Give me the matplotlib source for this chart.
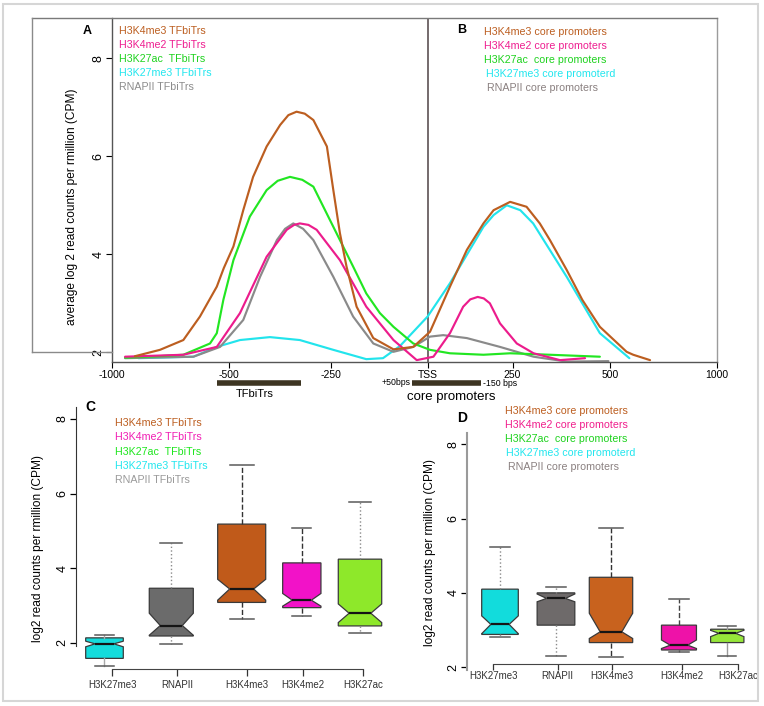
import numpy as np
import matplotlib
matplotlib.use("Agg")
import matplotlib.pyplot as plt
from matplotlib.lines import Line2D
from matplotlib.patches import Rectangle

plt.rcParams["font.family"] = ["Liberation Sans", "DejaVu Sans"]

W, H = 764, 706

# ---- panel A/B: average profiles (x in bp relative to TSS) ----
h3k4me3_x = [-900, -793, -693, -622, -550, -520, -488, -464, -440, -407, -374, -354, -334, -314,
             -293, -260, -244, -227, -210, -184, -141, -89, -38, 6, 65, 115, 164, 194, 243, 286,
             320, 346, 389, 429, 474, 578, 609, 688]
h3k4me3_y = [1.92, 2.05, 2.25, 2.73, 3.34, 3.72, 4.16, 4.90, 5.58, 6.20, 6.64, 6.84, 6.91, 6.87,
             6.74, 6.20, 5.31, 4.43, 3.75, 2.93, 2.29, 2.06, 2.11, 2.42, 3.34, 4.09, 4.63, 4.90,
             5.07, 4.97, 4.63, 4.29, 3.68, 3.07, 2.52, 2.01, 1.95, 1.84]

h3k27ac_x = [-942, -800, -693, -579, -550, -522, -488, -448, -407, -380, -350, -320, -293, -227,
             -193, -159, -124, -89, -38, 6, 65, 164, 243, 346, 474]
h3k27ac_y = [1.89, 1.92, 1.95, 2.18, 2.39, 3.07, 3.88, 4.77, 5.31, 5.50, 5.58, 5.52, 5.38, 4.29,
             3.75, 3.20, 2.80, 2.52, 2.18, 2.05, 1.98, 1.95, 1.98, 1.95, 1.91]

h3k4me2_x = [-942, -693, -550, -472, -407, -358, -340, -326, -305, -285, -227, -159, -89, -29,
             16, 65, 104, 125, 147, 165, 183, 213, 261, 304, 372, 436]
h3k4me2_y = [1.91, 1.95, 2.11, 2.80, 3.95, 4.50, 4.60, 4.63, 4.60, 4.50, 3.88, 2.93, 2.25, 1.84,
             1.91, 2.39, 2.93, 3.08, 3.13, 3.10, 3.00, 2.59, 2.18, 1.98, 1.84, 1.88]

rnapii_x = [-942, -650, -536, -464, -423, -382, -362, -342, -318, -293, -244, -193, -141, -89,
            -38, 6, 45, 115, 213, 304, 389, 496]
rnapii_y = [1.88, 1.91, 2.11, 2.66, 3.54, 4.29, 4.52, 4.63, 4.52, 4.29, 3.54, 2.73, 2.18, 2.01,
            2.11, 2.32, 2.35, 2.29, 2.11, 1.91, 1.81, 1.82]

h3k27me3_x = [-885, -650, -550, -472, -399, -326, -244, -159, -116, -72, -1, 65, 164, 194, 233,
              270, 303, 389, 474, 591]
h3k27me3_y = [1.88, 1.91, 2.11, 2.25, 2.31, 2.25, 2.05, 1.86, 1.88, 2.13, 2.73, 3.41, 4.56, 4.80,
              5.00, 4.90, 4.63, 3.54, 2.39, 1.88]

tick_bp = [-1000, -500, -250, 0, 250, 500, 1000]
tick_lab = ["-1000", "-500", "-250", "TSS", "250", "500", "1000"]
# the drawn axis is not linear in bp: screen offset of each tick
tick_px = [0, 117, 219.5, 316.5, 401, 498.5, 605]

tfbitrs_region = (-549, -324)
core_region = (-40, 158)

legend_a = ["H3K4me3 TFbiTrs", "H3K4me2 TFbiTrs", "H3K27ac  TFbiTrs", "H3K27me3 TFbiTrs",
            "RNAPII TFbiTrs"]
legend_b = ["H3K4me3 core promoters", "H3K4me2 core promoters", "H3K27ac  core promoters",
            "H3K27me3 core promoterd", "RNAPII core promoters"]

# ---- panels C/D: boxplots ----
box_names = ["H3K27me3", "RNAPII", "H3K4me3", "H3K4me2", "H3K27ac"]

c_whi = [2.20, 4.66, 6.76, 5.07, 5.78]
c_q3 = [2.13, 3.46, 5.18, 4.14, 4.24]
c_cihi = [2.04, 2.79, 3.70, 3.32, 3.04]
c_med = [1.97, 2.46, 3.44, 3.14, 2.79]
c_cilo = [1.89, 2.20, 3.14, 2.98, 2.54]
c_q1 = [1.58, 2.18, 3.08, 2.94, 2.45]
c_wlo = [1.38, 1.97, 2.64, 2.72, 2.26]

d_whi = [5.24, 4.17, 5.74, 3.83, 3.11]
d_q3 = [4.10, 4.00, 4.42, 3.13, 3.02]
d_cihi = [3.38, 3.97, 3.45, 2.73, 2.99]
d_med = [3.15, 3.85, 2.95, 2.59, 2.91]
d_cilo = [2.90, 3.76, 2.77, 2.50, 2.82]
d_q1 = [2.88, 3.13, 2.66, 2.46, 2.66]
d_wlo = [2.80, 2.30, 2.28, 2.41, 2.31]

C_BROWN = "#BC5E20"
C_MAG = "#EC1C8C"
C_GREEN = "#22E622"
C_CYAN = "#22E4EC"
C_GRAY = "#8A8A8A"


def rect(left, top, right, bottom):
    return [left / W, 1 - bottom / H, (right - left) / W, (bottom - top) / H]


def ftext(px, py, s, **kw):
    fig.text(px / W, 1 - py / H, s, **kw)


def fline(xs, ys, **kw):
    fig.add_artist(Line2D([x / W for x in xs], [1 - y / H for y in ys],
                          transform=fig.transFigure, **kw))


fig = plt.figure(figsize=(W / 100, H / 100), dpi=100)

# outer light frame
fig.add_artist(Rectangle((3.5 / W, 1 - 700.5 / H), 754.5 / W, 696.5 / H,
                         transform=fig.transFigure, fill=False,
                         edgecolor="#D6D6D6", lw=1.5))

# ================= A / B =================
ax = fig.add_axes(rect(111.5, 18.3, 716.5, 362))


def fwd(x):
    return np.interp(x, tick_bp, tick_px)


def inv(p):
    return np.interp(p, tick_px, tick_bp)


ax.set_xscale("function", functions=(fwd, inv))
ax.set_xlim(-1000, 1000)
ax.set_ylim(1.802, 8.816)

ax.axvline(0, color="#746A6C", lw=1.4, zorder=1)

lw = 1.55
kw = dict(lw=lw, solid_joinstyle="round", solid_capstyle="round")
ax.plot(h3k27me3_x, h3k27me3_y, color=C_CYAN, **kw)
ax.plot(rnapii_x, rnapii_y, color=C_GRAY, **kw)
ax.plot(h3k27ac_x, h3k27ac_y, color=C_GREEN, **kw)
ax.plot(h3k4me2_x, h3k4me2_y, color=C_MAG, **kw)
ax.plot(h3k4me3_x, h3k4me3_y, color=C_BROWN, **kw)

ax.set_xticks(tick_bp)
ax.set_xticklabels(tick_lab)
ax.xaxis.set_minor_locator(matplotlib.ticker.NullLocator())
ax.set_yticks([2, 4, 6, 8])
ax.set_yticklabels(["2", "4", "6", "8"], rotation=90, va="center")
ax.tick_params(axis="x", length=4, width=0.8, labelsize=7.5, pad=1.5)
ax.tick_params(axis="y", length=4, width=0.8, labelsize=9, pad=1)
ax.spines["top"].set_visible(False)
ax.spines["right"].set_color("#9C9C9C")
ax.spines["left"].set_color("#555555")
ax.spines["bottom"].set_color("#555555")
for s in ax.spines.values():
    s.set_linewidth(1.0)

# box around the top panel
fline([32, 717], [18.3, 18.3], color="#7A7A7A", lw=1.0)
fline([32, 32], [18.3, 351.7], color="#8A8A8A", lw=1.0)
fline([32, 111.5], [351.7, 351.7], color="#8A8A8A", lw=1.0)

ftext(71.7, 206.7, "average log 2 read counts per rmillion (CPM)", rotation=90,
      ha="center", va="center", fontsize=8.6)

ftext(87.3, 30.7, "A", fontsize=9, fontweight="bold", ha="center", va="center")
ftext(461.7, 30, "B", fontsize=9, fontweight="bold", ha="center", va="center")

text_cols = [C_BROWN, "#EE1E90", "#1FD21F", "#22E6EE", "#8C8C8C"]
for i, s in enumerate(legend_a):
    ftext(119, 30.7 + i * 14.0, s, color=text_cols[i], fontsize=7.7, va="center")
b_x = [484, 484, 484, 485.5, 486.5]
b_cols = [C_BROWN, "#EE1E90", "#1FD21F", "#22E6EE", "#8A8080"]
for i, s in enumerate(legend_b):
    ftext(b_x[i], 32.3 + i * 13.9, s, color=b_cols[i], fontsize=7.7, va="center")


# region bars under the axis
def ay(py):
    return (362 - py) / (362 - 18.3)


trans = ax.get_xaxis_transform()
ax.plot(tfbitrs_region, [ay(383)] * 2, color="#3D3522", lw=4, solid_capstyle="butt",
        transform=trans, clip_on=False)
ax.plot(core_region, [ay(383)] * 2, color="#3D3522", lw=4, solid_capstyle="butt",
        transform=trans, clip_on=False)
ax.text(np.mean(tfbitrs_region), ay(394), "TFbiTrs", transform=trans, ha="center",
        va="center", fontsize=8)
ax.text(core_region[0] - 4, ay(382.5), "+50bps", transform=trans, ha="right",
        va="center", fontsize=6.3)
ax.text(core_region[1] + 6, ay(384), "-150 bps", transform=trans, ha="left",
        va="center", fontsize=6.3)
ax.text(70, ay(397), "core promoters", transform=trans, ha="center", va="center",
        fontsize=9.5)


# ================= C / D =================
def draw_box(axb, pos, widths, med, q1, q3, wlo, whi, cilo, cihi, colors, wstyles, capw):
    stats = []
    for i in range(len(med)):
        stats.append(dict(med=med[i], q1=q1[i], q3=q3[i], whislo=wlo[i], whishi=whi[i],
                          cilo=cilo[i], cihi=cihi[i], fliers=[]))
    bp = axb.bxp(stats, positions=pos, widths=widths, shownotches=True, patch_artist=True,
                 showfliers=False, capwidths=capw, manage_ticks=False)
    for i, b in enumerate(bp["boxes"]):
        b.set_facecolor(colors[i])
        b.set_edgecolor("#3A3A3A")
        b.set_linewidth(0.9)
    for m in bp["medians"]:
        m.set_color("#151515")
        m.set_linewidth(1.6)
    for i in range(len(med)):
        ls, col = wstyles[i]
        for wk in bp["whiskers"][2 * i:2 * i + 2]:
            wk.set_linestyle(ls)
            wk.set_color(col)
            wk.set_linewidth(1.0)
        for cp in bp["caps"][2 * i:2 * i + 2]:
            cp.set_color("#5A5A5A")
            cp.set_linewidth(1.1)


# C
axc = fig.add_axes(rect(75.7, 400, 400, 669.3))
c_pos = [1.0, 2.0, 3.054, 3.954, 4.825]
c_ticks = [1.117, 2.090, 3.129, 3.976, 4.874]
c_w = [0.563, 0.659, 0.719, 0.573, 0.650]
c_cols = ["#14DCDC", "#6B6B6B", "#C05A1A", "#F212C8", "#8EE82A"]
c_ws = [("-", "#AAAAAA"), (":", "#8A8A8A"), ("--", "#333333"), ("--", "#333333"),
        (":", "#8A8A8A")]
draw_box(axc, c_pos, c_w, c_med, c_q1, c_q3, c_wlo, c_whi, c_cilo, c_cihi, c_cols, c_ws,
         [w * 0.5 for w in c_w])
axc.set_xlim(0.569, 5.424)
axc.set_ylim(1.287, 8.507)
axc.set_xticks(c_ticks)
axc.set_xticklabels(box_names)
axc.set_yticks([2, 4, 6, 8])
axc.set_yticklabels(["2", "4", "6", "8"], rotation=90, va="center")
axc.tick_params(axis="x", length=5, width=0.9, labelsize=7, pad=2.5, colors="#333333")
axc.tick_params(axis="y", length=4, width=0.9, labelsize=9, pad=1)
axc.spines["top"].set_visible(False)
axc.spines["right"].set_visible(False)
axc.spines["left"].set_bounds(1.9, 8.33)
axc.spines["bottom"].set_bounds(c_ticks[0], c_ticks[-1])
axc.spines["left"].set_color("#333333")
axc.spines["bottom"].set_color("#444444")
axc.patch.set_alpha(0)

ftext(38, 548, "log2 read counts per rmillion (CPM)", rotation=90, ha="center",
      va="center", fontsize=8.6)
ftext(90, 407, "C", fontsize=10, fontweight="bold", ha="center", va="center")
c_tcols = [C_BROWN, "#F01EB4", "#1EE61E", "#22E6EE", "#9A9A9A"]
for i, s in enumerate(legend_a):
    ftext(115, 423.3 + i * 14.2, s, color=c_tcols[i], fontsize=7.7, va="center")

# D
axd = fig.add_axes(rect(466.7, 430, 750, 672))
d_pos = [1.0, 1.933, 2.85, 3.983, 4.788]
d_ticks = [0.888, 1.962, 2.867, 4.028, 4.972]
d_w = [0.61, 0.628, 0.723, 0.583, 0.555]
d_cols = ["#12DCDC", "#6E6A6A", "#C8621E", "#EE12A8", "#96E63A"]
d_ws = [(":", "#8A8A8A"), (":", "#8A8A8A"), ("--", "#333333"), ("--", "#444444"),
        ("-", "#9A9A9A")]
draw_box(axd, d_pos, d_w, d_med, d_q1, d_q3, d_wlo, d_whi, d_cilo, d_cihi, d_cols, d_ws,
         [w * 0.55 for w in d_w])
axd.set_xlim(0.445, 5.167)
axd.set_ylim(1.867, 8.39)
axd.set_xticks(d_ticks)
axd.set_xticklabels(box_names)
axd.set_yticks([2, 4, 6, 8])
axd.set_yticklabels(["2", "4", "6", "8"], rotation=90, va="center")
axd.tick_params(axis="x", length=4, width=0.9, labelsize=7, pad=1, colors="#333333")
axd.tick_params(axis="y", length=4, width=0.9, labelsize=9, pad=1)
axd.spines["top"].set_visible(False)
axd.spines["right"].set_visible(False)
axd.spines["bottom"].set_position(("data", 2.082))
axd.spines["bottom"].set_bounds(d_ticks[0], d_ticks[-1])
axd.spines["left"].set_bounds(1.92, 8.31)
axd.spines["left"].set_color("#9A9A9A")
axd.spines["left"].set_linewidth(1.5)
axd.spines["bottom"].set_color("#444444")
axd.patch.set_alpha(0)

ftext(430, 553, "log2 read counts per rmillion (CPM)", rotation=90, ha="center",
      va="center", fontsize=8.6)
ftext(461.7, 418, "D", fontsize=10, fontweight="bold", ha="center", va="center")
d_tx = [505, 505, 505, 506.5, 508]
d_tcols = [C_BROWN, "#F01E8C", "#1ED21E", "#22E6EE", "#8A8080"]
for i, s in enumerate(legend_b):
    ftext(d_tx[i], 410.7 + i * 14.0, s, color=d_tcols[i], fontsize=7.7, va="center")

fig.savefig("out.png", dpi=100)
